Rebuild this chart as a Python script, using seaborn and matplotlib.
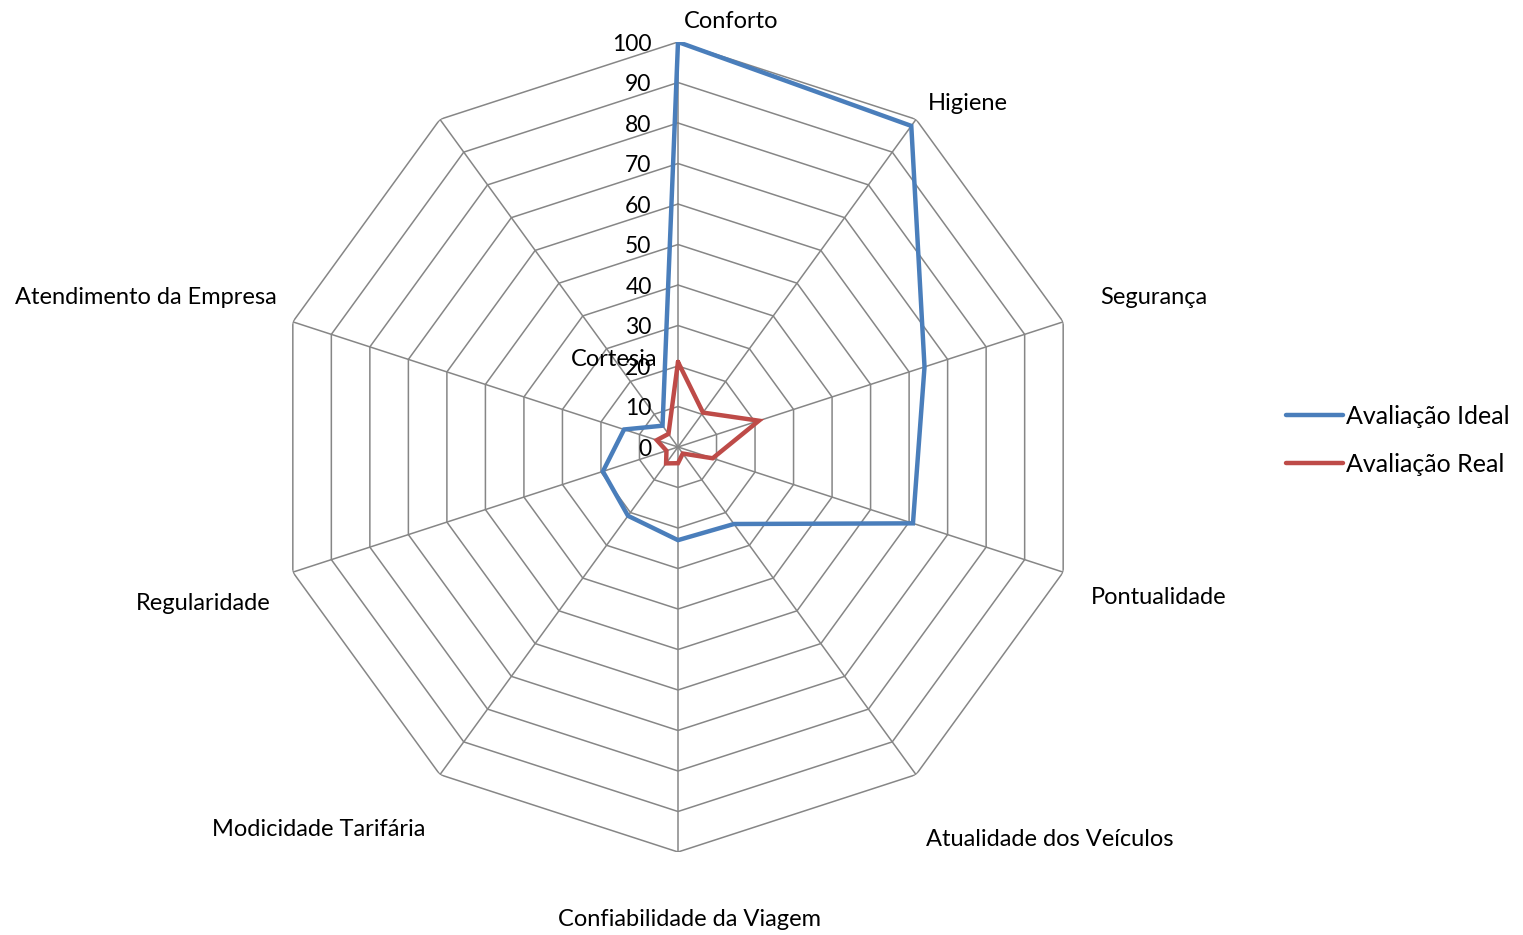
import numpy as np
import pandas as pd
import matplotlib
matplotlib.use("Agg")
import matplotlib.pyplot as plt
import seaborn as sns

categorias = ["Conforto", "Higiene", "Segurança", "Pontualidade",
              "Atualidade dos Veículos", "Confiabilidade da Viagem",
              "Modicidade Tarifária", "Regularidade",
              "Atendimento da Empresa", "Cortesia"]
ideal = [100, 98, 64, 61, 23.5, 23, 21, 19.5, 14, 6.5]
real = [21, 10.5, 21, 9, 2, 4, 5, 3, 5.5, 4]
ticks = [0, 10, 20, 30, 40, 50, 60, 70, 80, 90, 100]

# label centres in figure pixels (Excel puts them a bit irregularly)
label_px = [(731, 22), (968, 104), (1154, 297), (1159, 598), (1050, 839),
            (689, 920), (319, 829), (203, 603), (146, 297), (614, 360)]

sns.set_theme(style="white")
plt.rcParams['font.family'] = ['Lato', 'DejaVu Sans']

W, H = 1523, 935
fig = plt.figure(figsize=(W / 100, H / 100), dpi=100)
cx, cy, R = 678, 447, 405
ax = fig.add_axes([(cx - R) / W, (H - cy - R) / H, 2 * R / W, 2 * R / H],
                  projection='polar')
ax.set_theta_offset(np.pi / 2)
ax.set_theta_direction(-1)
ax.set_ylim(0, 100)
ax.grid(False)
ax.spines['polar'].set_visible(False)
ax.set_xticks([])
ax.set_yticks([])
ax.set_facecolor('none')

n = len(categorias)
ang = np.linspace(0, 2 * np.pi, n, endpoint=False)
ang_c = np.append(ang, ang[0])

grid_col = '#868686'
for t in ticks[1:]:
    ax.plot(ang_c, [t] * (n + 1), color=grid_col, lw=1.1, zorder=1)
for a in ang:
    ax.plot([a, a], [0, 100], color=grid_col, lw=1.1, zorder=1)

df = pd.DataFrame({"ang": np.tile(ang_c, 2),
                   "valor": ideal + [ideal[0]] + real + [real[0]],
                   "serie": ["Avaliação Ideal"] * (n + 1) + ["Avaliação Real"] * (n + 1)})
cores = {"Avaliação Ideal": "#4A7EBB", "Avaliação Real": "#BE4B48"}
for nome, sub in df.groupby("serie", sort=False):
    ax.plot(sub["ang"], sub["valor"], color=cores[nome], lw=3.2,
            label=nome, zorder=3, solid_joinstyle='miter')

for t in ticks:
    ax.annotate(str(t), xy=(0, t), xytext=(-19, -1.5), textcoords='offset points',
                ha='right', va='center', fontsize=16.5, color='black', zorder=4)

for lab, (px, py) in zip(categorias, label_px):
    fig.text(px / W, 1 - py / H, lab, ha='center', va='center',
             fontsize=17, color='black')

handles, labels = ax.get_legend_handles_labels()
fig.legend(handles, labels, loc='center left',
           bbox_to_anchor=(1263 / W, 1 - 440 / H), frameon=False,
           fontsize=18, handlelength=2.3, handletextpad=0.1,
           labelspacing=1.0, labelcolor='black')

fig.savefig("out.png", dpi=100)
